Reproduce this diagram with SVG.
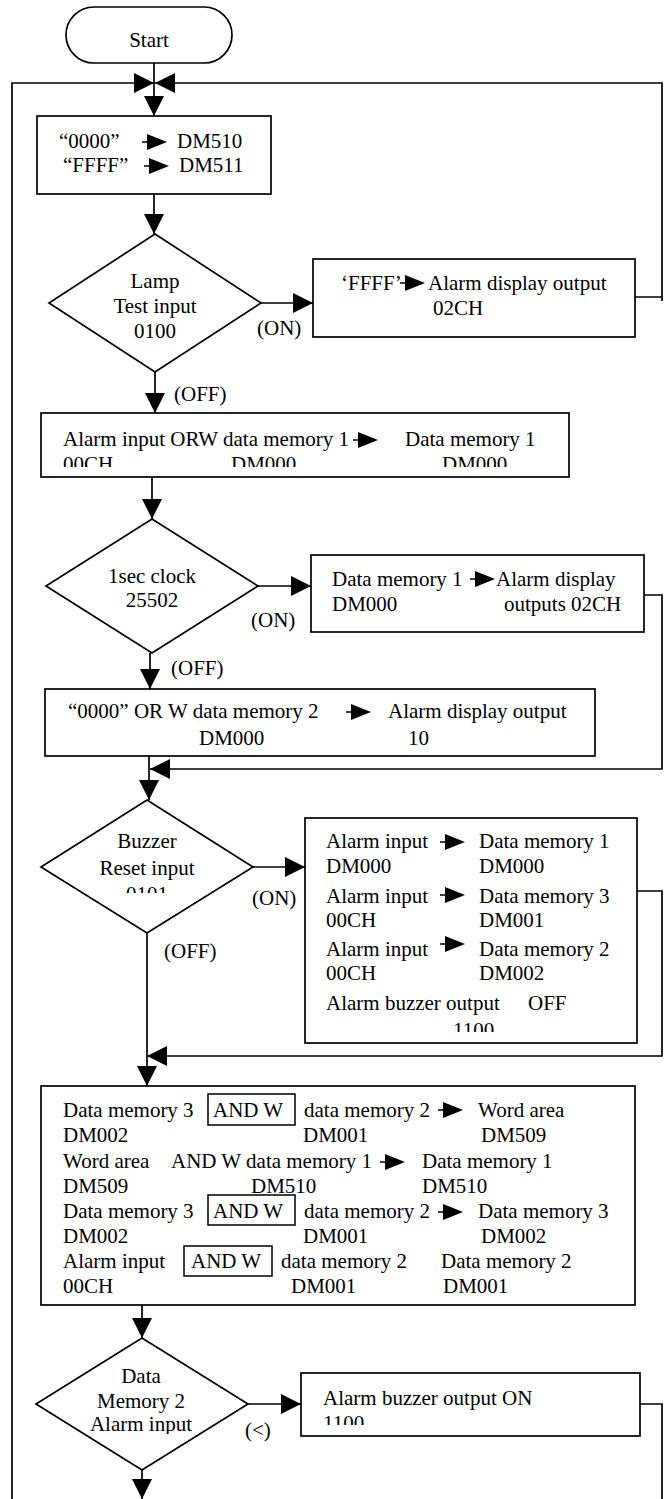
<svg xmlns="http://www.w3.org/2000/svg" xmlns:xlink="http://www.w3.org/1999/xlink" width="667" height="1499" viewBox="0 0 667 1499">
<style>
.t{font-family:"Liberation Serif","Times New Roman",serif;font-size:21px;fill:#000}
.m{text-anchor:middle}
.b{fill:#fff;stroke:#000;stroke-width:1.7}
.c{fill:none;stroke:#000;stroke-width:1.7}
.k{fill:none;stroke:#000;stroke-width:1.5}
</style>
<defs>
<marker id="ah" markerUnits="userSpaceOnUse" markerWidth="20" markerHeight="20" viewBox="0 0 20 20" refX="20" refY="10" orient="auto">
<path d="M0,0 L20,10 L0,20 z" fill="#000"/>
</marker>
<g id="ia"><line x1="0" y1="0" x2="7" y2="0" stroke="#000" stroke-width="1.5"/><polygon points="5,-8 25,0 5,8" fill="#000"/></g>
<clipPath id="cp2"><rect x="41" y="413" width="528" height="54"/></clipPath>
<clipPath id="cp5"><rect x="305" y="818" width="332" height="214"/></clipPath>
<clipPath id="cp7"><rect x="301" y="1373" width="339" height="52"/></clipPath>
<clipPath id="cpd3"><rect x="40" y="800" width="215" height="93"/></clipPath>
<clipPath id="cpd4"><rect x="35" y="1338" width="215" height="96"/></clipPath>
</defs>
<rect width="667" height="1499" fill="#fff"/>

<g id="connectors">
<line class="c" x1="154" y1="63" x2="154" y2="116" marker-end="url(#ah)"/>
<polyline class="c" points="12,1499 12,83 154,83" marker-end="url(#ah)"/>
<polyline class="c" points="635,297 662,297 662,83 155,83" marker-end="url(#ah)"/>
<line class="c" x1="662" y1="297" x2="662" y2="301"/>
<line class="c" x1="154" y1="194" x2="154" y2="234" marker-end="url(#ah)"/>
<line class="c" x1="261" y1="303" x2="313" y2="303" marker-end="url(#ah)"/>
<line class="c" x1="155" y1="372" x2="155" y2="413" marker-end="url(#ah)"/>
<line class="c" x1="152" y1="477" x2="152" y2="519" marker-end="url(#ah)"/>
<line class="c" x1="258" y1="586" x2="311" y2="586" marker-end="url(#ah)"/>
<line class="c" x1="150" y1="653" x2="150" y2="689" marker-end="url(#ah)"/>
<polyline class="c" points="644,595 662,595 662,769 150,769" marker-end="url(#ah)"/>
<line class="c" x1="149" y1="756" x2="149" y2="800" marker-end="url(#ah)"/>
<line class="c" x1="253" y1="867" x2="305" y2="867" marker-end="url(#ah)"/>
<line class="c" x1="147" y1="933" x2="147" y2="1086" marker-end="url(#ah)"/>
<polyline class="c" points="637,891 662,891 662,1056 147,1056" marker-end="url(#ah)"/>
<line class="c" x1="142" y1="1305" x2="142" y2="1338" marker-end="url(#ah)"/>
<line class="c" x1="248" y1="1404" x2="301" y2="1404" marker-end="url(#ah)"/>
<line class="c" x1="142" y1="1470" x2="142" y2="1499" marker-end="url(#ah)"/>
<polyline class="c" points="640,1404 662,1404 662,1499"/>
<text class="t" x="257" y="335">(ON)</text>
<text class="t" x="174" y="401">(OFF)</text>
<text class="t" x="251" y="627">(ON)</text>
<text class="t" x="171" y="675">(OFF)</text>
<text class="t" x="252" y="905">(ON)</text>
<text class="t" x="164" y="958">(OFF)</text>
<text class="t" x="245" y="1437">(&lt;)</text>
</g>

<g id="n_start">
<rect class="b" x="66" y="7" width="166" height="56" rx="28" ry="28"/>
<text class="t m" x="149" y="47">Start</text>
</g>

<g id="n_init">
<rect class="b" x="37" y="116" width="234" height="78"/>
<text class="t" x="59" y="148">“0000”</text>
<use xlink:href="#ia" x="142" y="142"/>
<text class="t" x="177" y="148">DM510</text>
<text class="t" x="63" y="172">“FFFF”</text>
<use xlink:href="#ia" x="144" y="166"/>
<text class="t" x="179" y="172">DM511</text>
</g>

<g id="n_lamp">
<polygon class="b" points="155,234 261,303 155,372 49,303"/>
<text class="t m" x="155" y="288">Lamp</text>
<text class="t m" x="155" y="313">Test input</text>
<text class="t m" x="155" y="338">0100</text>
</g>

<g id="n_lamp_on">
<rect class="b" x="313" y="259" width="322" height="78"/>
<text class="t" x="341" y="290">‘FFFF’</text>
<use xlink:href="#ia" x="400" y="283"/>
<text class="t" x="428" y="290">Alarm display output</text>
<text class="t" x="433" y="315">02CH</text>
</g>

<g id="n_orw">
<rect class="b" x="41" y="413" width="528" height="64"/>
<text class="t" x="63" y="446">Alarm input ORW data memory 1</text>
<use xlink:href="#ia" x="353" y="440"/>
<text class="t" x="405" y="446">Data memory 1</text>
<g clip-path="url(#cp2)">
<text class="t" x="63" y="471">00CH</text>
<text class="t" x="231" y="471">DM000</text>
<text class="t" x="442" y="471">DM000</text>
</g>
</g>

<g id="n_clock">
<polygon class="b" points="152,519 258,586 152,653 46,586"/>
<text class="t m" x="152" y="583">1sec clock</text>
<text class="t m" x="152" y="607">25502</text>
</g>

<g id="n_clock_on">
<rect class="b" x="311" y="555" width="333" height="77"/>
<text class="t" x="332" y="586">Data memory 1</text>
<use xlink:href="#ia" x="470" y="579"/>
<text class="t" x="496" y="586">Alarm display</text>
<text class="t" x="332" y="611">DM000</text>
<text class="t" x="504" y="611">outputs 02CH</text>
</g>

<g id="n_or2">
<rect class="b" x="45" y="689" width="550" height="67"/>
<text class="t" x="68" y="718">“0000” OR W data memory 2</text>
<use xlink:href="#ia" x="346" y="712"/>
<text class="t" x="388" y="718">Alarm display output</text>
<text class="t" x="199" y="745">DM000</text>
<text class="t" x="408" y="745">10</text>
</g>

<g id="n_reset">
<polygon class="b" points="147,800 253,867 147,933 41,867"/>
<text class="t m" x="147" y="848">Buzzer</text>
<text class="t m" x="147" y="875">Reset input</text>
<text class="t m" x="147" y="901" clip-path="url(#cpd3)">0101</text>
</g>

<g id="n_reset_on">
<rect class="b" x="305" y="818" width="332" height="225"/>
<text class="t" x="326" y="848">Alarm input</text>
<use xlink:href="#ia" x="440" y="842"/>
<text class="t" x="479" y="848">Data memory 1</text>
<text class="t" x="326" y="873">DM000</text>
<text class="t" x="479" y="873">DM000</text>
<text class="t" x="326" y="903">Alarm input</text>
<use xlink:href="#ia" x="440" y="895"/>
<text class="t" x="479" y="903">Data memory 3</text>
<text class="t" x="326" y="927">00CH</text>
<text class="t" x="479" y="927">DM001</text>
<text class="t" x="326" y="956">Alarm input</text>
<use xlink:href="#ia" x="440" y="944"/>
<text class="t" x="479" y="956">Data memory 2</text>
<text class="t" x="326" y="980">00CH</text>
<text class="t" x="479" y="980">DM002</text>
<text class="t" x="326" y="1010">Alarm buzzer output</text>
<text class="t" x="528" y="1010">OFF</text>
<text class="t" x="453" y="1037" clip-path="url(#cp5)">1100</text>
</g>

<g id="n_and">
<rect class="b" x="41" y="1086" width="594" height="219"/>
<text class="t" x="63" y="1117">Data memory 3</text>
<rect class="k" x="208" y="1094" width="87" height="31"/>
<text class="t" x="213" y="1117">AND W</text>
<text class="t" x="304" y="1117">data memory 2</text>
<use xlink:href="#ia" x="438" y="1110"/>
<text class="t" x="478" y="1117">Word area</text>
<text class="t" x="63" y="1142">DM002</text>
<text class="t" x="303" y="1142">DM001</text>
<text class="t" x="481" y="1142">DM509</text>
<text class="t" x="63" y="1168">Word area</text>
<text class="t" x="171" y="1168">AND W data memory 1</text>
<use xlink:href="#ia" x="380" y="1162"/>
<text class="t" x="422" y="1168">Data memory 1</text>
<text class="t" x="63" y="1193">DM509</text>
<text class="t" x="251" y="1193">DM510</text>
<text class="t" x="422" y="1193">DM510</text>
<text class="t" x="63" y="1218">Data memory 3</text>
<rect class="k" x="208" y="1195" width="87" height="30"/>
<text class="t" x="213" y="1218">AND W</text>
<text class="t" x="304" y="1218">data memory 2</text>
<use xlink:href="#ia" x="438" y="1212"/>
<text class="t" x="478" y="1218">Data memory 3</text>
<text class="t" x="63" y="1243">DM002</text>
<text class="t" x="303" y="1243">DM001</text>
<text class="t" x="481" y="1243">DM002</text>
<text class="t" x="63" y="1268">Alarm input</text>
<rect class="k" x="184" y="1246" width="88" height="30"/>
<text class="t" x="191" y="1268">AND W</text>
<text class="t" x="281" y="1268">data memory 2</text>
<text class="t" x="441" y="1268">Data memory 2</text>
<text class="t" x="63" y="1293">00CH</text>
<text class="t" x="291" y="1293">DM001</text>
<text class="t" x="443" y="1293">DM001</text>
</g>

<g id="n_cmp">
<polygon class="b" points="142,1338 248,1404 142,1470 36,1404"/>
<text class="t m" x="141" y="1383">Data</text>
<text class="t m" x="141" y="1408">Memory 2</text>
<text class="t m" x="141" y="1431" clip-path="url(#cpd4)">Alarm input</text>
</g>

<g id="n_buzz_on">
<rect class="b" x="301" y="1373" width="339" height="63"/>
<text class="t" x="323" y="1405">Alarm buzzer output ON</text>
<text class="t" x="323" y="1430" clip-path="url(#cp7)">1100</text>
</g>
</svg>
